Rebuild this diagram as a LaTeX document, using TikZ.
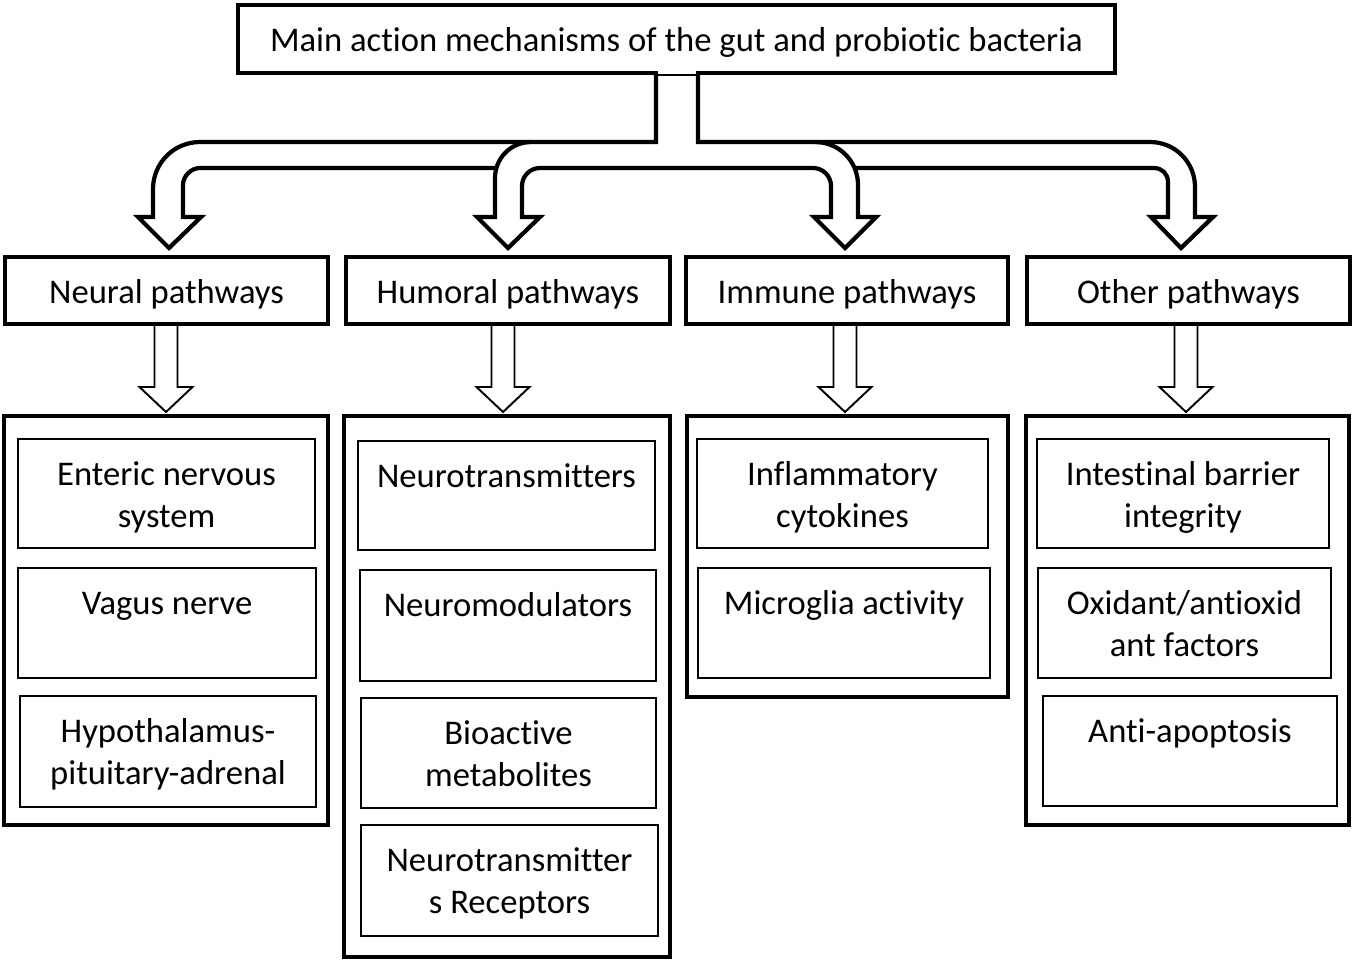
\documentclass[tikz,border=0pt]{standalone}
\usepackage{fontspec}
\setmainfont{Carlito}[Ligatures=NoCommon]
\usetikzlibrary{fit}
\newcommand\gbox[6]{\node[#1, fit={(#3,#4) (#5,#6)}] (#2) {};}
\begin{document}
\begin{tikzpicture}[x=0.02cm,y=-0.02cm, line join=miter,
  topbox/.style={draw, line width=2.5pt, inner sep=0pt},
  headbox/.style={draw, line width=2.5pt, inner sep=0pt},
  colbox/.style={draw, line width=2pt, inner sep=0pt},
  itembox/.style={draw, line width=1.1pt, inner sep=0pt},
  lbl/.style={font=\fontsize{19.7}{23.5}\selectfont, align=center, inner sep=0pt},
  itemlbl/.style={lbl, anchor=north},
  bigarrow/.style={line width=2.4pt},
  smallarrow/.style={line width=1.1pt}]
\useasboundingbox (0,0) rectangle (1355,961);

% top box
\gbox{topbox}{top}{238}{5}{1115}{73}
\node[lbl] (toptxt) at ([yshift=-2pt]top.center) {Main action mechanisms of the gut and probiotic bacteria};
\fill[white] (658,69) rectangle (696,78);
\draw[line width=0.6pt] (656,75) -- (698,75);

% big branching arrow
\draw[bigarrow] (656,73) -- (656,142) -- (200,142)
  .. controls (174,142) and (153,163) .. (153,189) -- (153,217) -- (138,217) -- (169,248) -- (201,217) -- (183,217) -- (183,185)
  .. controls (183,176) and (191,168) .. (200,168) -- (496,168);
\draw[bigarrow] (531,142) .. controls (511,142) and (495,158) .. (495,178) -- (495,217) -- (477,217) -- (508,248) -- (540,217) -- (522,217) -- (522,186)
  .. controls (522,176) and (530,168) .. (540,168) -- (813,168)
  .. controls (823,168) and (831,176) .. (831,186) -- (831,217) -- (814,217) -- (845,248) -- (876,217) -- (858,217) -- (858,185)
  .. controls (858,161) and (839,142) .. (815,142);
\draw[bigarrow] (855,168) -- (1154,168) .. controls (1162,168) and (1168,174) .. (1168,182) -- (1168,217) -- (1151,217) -- (1181,248) -- (1213,217) -- (1195,217) -- (1195,187)
  .. controls (1195,162) and (1175,142) .. (1150,142) -- (698,142) -- (698,73);

% header boxes
\gbox{headbox}{neural}{5}{257}{328}{324}
\gbox{headbox}{humoral}{346}{257}{670}{324}
\gbox{headbox}{immune}{686}{257}{1008}{324}
\gbox{headbox}{other}{1027}{257}{1350}{324}
\node[lbl] (neuraltxt) at ([yshift=-2pt]neural.center) {Neural pathways};
\node[lbl] (humoraltxt) at ([yshift=-2pt]humoral.center) {Humoral pathways};
\node[lbl] (immunetxt) at ([yshift=-2pt]immune.center) {Immune pathways};
\node[lbl] (othertxt) at ([yshift=-2pt]other.center) {Other pathways};

% small arrows
\foreach \cx in {166,503,845,1186}{
  \draw[smallarrow] (\cx-11.5,324) -- (\cx-11.5,387) -- (\cx-26.5,387) -- (\cx,412) -- (\cx+26.5,387) -- (\cx+11.5,387) -- (\cx+11.5,324);
}

% column boxes
\gbox{colbox}{ncol}{4}{416}{328}{825}
\gbox{colbox}{hcol}{344}{416}{670}{957}
\gbox{colbox}{icol}{687}{416}{1008}{697}
\gbox{colbox}{ocol}{1026}{416}{1349}{825}

% neural items
\gbox{itembox}{n1}{18}{439}{315}{548}
\gbox{itembox}{n2}{18}{568}{316}{678}
\gbox{itembox}{n3}{20}{696}{316}{807}
\node[itemlbl] (n1t) at ([yshift=-10.5pt]n1.north) {\strut Enteric nervous\\system};
\node[itemlbl] (n2t) at ([yshift=-10.5pt]n2.north) {\strut Vagus nerve};
\node[itemlbl] (n3t) at ([yshift=-10.5pt]n3.north) {\strut Hypothalamus-\\pituitary-adrenal};

% humoral items
\gbox{itembox}{h1}{358}{441}{655}{550}
\gbox{itembox}{h2}{360}{570}{656}{681}
\gbox{itembox}{h3}{361}{698}{656}{808}
\gbox{itembox}{h4}{361}{825}{658}{936}
\node[itemlbl] (h1t) at ([yshift=-10.5pt]h1.north) {\strut Neurotransmitters};
\node[itemlbl] (h2t) at ([yshift=-10.5pt]h2.north) {\strut Neuromodulators};
\node[itemlbl] (h3t) at ([yshift=-10.5pt]h3.north) {\strut Bioactive\\metabolites};
\node[itemlbl] (h4t) at ([yshift=-10.5pt]h4.north) {\strut Neurotransmitter\\s Receptors};

% immune items
\gbox{itembox}{i1}{697}{439}{988}{548}
\gbox{itembox}{i2}{698}{568}{990}{678}
\node[itemlbl] (i1t) at ([yshift=-10.5pt]i1.north) {\strut Inflammatory\\cytokines};
\node[itemlbl] (i2t) at ([yshift=-10.5pt]i2.north) {\strut Microglia activity};

% other items
\gbox{itembox}{o1}{1037}{439}{1329}{548}
\gbox{itembox}{o2}{1038}{568}{1331}{678}
\gbox{itembox}{o3}{1043}{696}{1337}{806}
\node[itemlbl] (o1t) at ([yshift=-10.5pt]o1.north) {\strut Intestinal barrier\\integrity};
\node[itemlbl] (o2t) at ([yshift=-10.5pt]o2.north) {\strut Oxidant/antioxid\\ant factors};
\node[itemlbl] (o3t) at ([yshift=-10.5pt]o3.north) {\strut Anti-apoptosis};
\end{tikzpicture}
\end{document}
